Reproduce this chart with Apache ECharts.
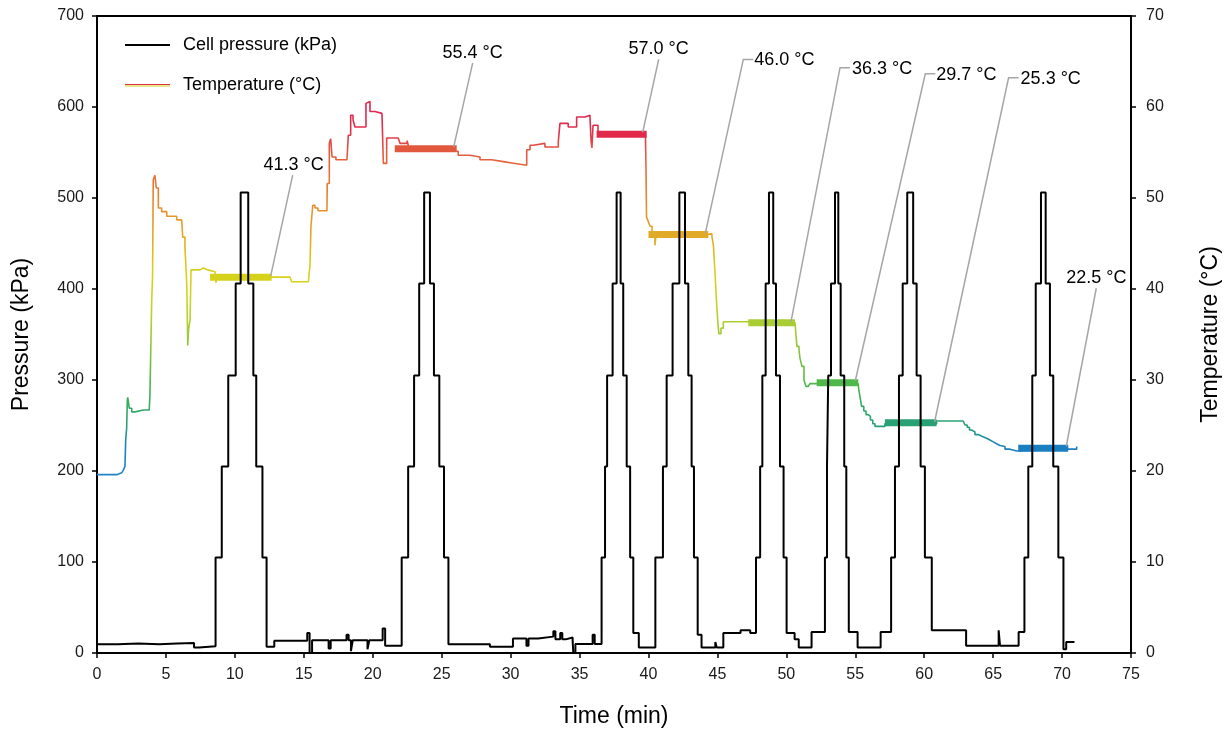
<!DOCTYPE html>
<html>
<head>
<meta charset="utf-8">
<title>Cell pressure and temperature</title>
<script src="https://cdn.jsdelivr.net/npm/echarts@6/dist/echarts.min.js"></script>
<style>
  html, body { margin: 0; padding: 0; background: #ffffff; }
  #chart { width: 1232px; height: 731px; }
</style>
</head>
<body>
<div id="chart"></div>
<script>
// ---- data -------------------------------------------------------------
// Cell pressure (kPa): each point is the time (min) at which a new level starts
const pressureTime = [
  0, 1.5, 3.0, 4.5, 5.8, 7.04, 7.4,
  8.6, 9.05, 9.52, 10.06, 10.42, 10.97, 11.34, 11.55, 12.0, 12.3,
  12.86, 15.25, 15.42, 15.6, 16.8, 16.95, 18.1, 18.25, 18.42, 18.55, 19.62, 19.75, 20.72, 20.9,
  22.1, 22.57, 23.0, 23.37, 23.73, 24.15, 24.44, 24.83, 25.17, 25.49,
  28.5, 30.17, 31.15, 31.3, 32.0, 33.1, 33.25, 33.6, 33.75, 34.0, 34.5, 34.55, 34.7, 35.95, 36.1,
  36.6, 36.85, 37.0, 37.4, 37.69, 37.98, 38.17, 38.42, 38.67, 38.9, 39.3,
  40.5, 41.05, 41.32, 41.75, 42.24, 42.65, 42.89, 43.13, 43.3, 43.57, 43.85, 44.85, 44.95,
  45.43, 46.68, 47.38,
  47.8, 48.1, 48.26, 48.5, 48.74, 49.05, 49.25, 49.54, 49.8, 50.02, 50.6, 50.9, 51.83,
  52.8, 52.95, 53.04, 53.24, 53.53, 53.77, 53.94, 54.2, 54.35, 54.53, 55.17, 56.84,
  57.6, 57.88, 58.17, 58.44, 58.77, 59.2, 59.45, 59.74, 60.05, 60.55, 63.04, 65.4, 65.5, 66.85,
  67.27, 67.55, 67.84, 68.09, 68.47, 68.81, 69.12, 69.36, 69.73, 70.1, 70.3, 70.9
];
const pressureKPa = [
  9.5, 10.5, 9.5, 10.5, 11, 6, 7.5,
  105, 205, 305, 406, 506, 406, 305, 205, 105, 7,
  13.5, 22, 0, 14, 5, 14, 20, 14, 2, 14, 4, 14, 27, 8,
  105, 205, 305, 406, 506, 406, 305, 205, 105, 9.5,
  7, 16, 8, 16, 18, 24, 15, 22, 15, 17, 13, 0, 10, 20, 10,
  105, 205, 305, 406, 506, 406, 305, 205, 105, 22, 6,
  105, 205, 305, 406, 506, 406, 305, 205, 105, 20, 6, 12, 6,
  22, 25, 22,
  105, 205, 305, 406, 506, 406, 305, 205, 105, 22, 15, 6, 23,
  105, 205, 305, 406, 506, 406, 305, 205, 105, 23, 6, 23,
  105, 205, 305, 406, 506, 406, 305, 205, 105, 25, 8, 25, 8, 23,
  105, 205, 305, 406, 506, 406, 305, 205, 105, 4, 12, 12
];

// Temperature (°C): each point is the time (min) at which a new reading starts
const tempTime = [
  0, 1.43, 1.52, 1.79, 1.91, 2.03, 2.08, 2.15, 2.2, 2.23, 2.34, 2.52, 2.76, 3.36, 3.79,
  3.84, 3.97, 4.03, 4.08, 4.2, 4.3, 4.45, 4.69, 5.06, 5.78, 6.14, 6.22, 6.38, 6.51, 6.55,
  6.58, 6.64, 6.75, 6.82, 7.47, 7.71, 8.05, 8.56, 8.63, 8.7, 12.69, 14.0, 14.12, 15.33,
  15.45, 15.52, 15.65, 15.81, 16.03, 16.68, 16.7, 16.85, 16.95, 17.05, 17.33, 18.13, 18.23,
  18.4, 18.57, 18.71, 19.32, 19.51, 19.63, 19.8, 20.16, 20.67, 20.77, 21.01, 21.85, 21.98,
  22.34, 22.49, 22.63, 24.2, 24.88, 25.6, 26.2, 27.05, 27.78, 28.63, 29.47, 30.32, 31.17,
  31.41, 31.65, 32.49, 33.46, 33.58, 34.18, 34.79, 35.4, 35.76, 35.84, 35.9, 35.98, 36.34,
  39.78, 39.82, 39.86, 39.99, 40.11, 40.26, 40.47, 40.55, 44.34, 44.6, 44.71, 44.83, 44.95,
  45.04, 45.11, 45.26, 45.43, 47.24, 50.63, 50.7, 50.77, 50.92, 50.99, 51.13, 51.28, 51.42,
  51.59, 51.71, 55.21, 55.26, 55.36, 55.46, 55.62, 55.78, 55.94, 56.1, 56.27, 56.43, 56.79,
  57.15, 60.9, 62.83, 62.96, 63.12, 63.28, 63.44, 63.68, 63.92, 64.22, 64.53, 64.77, 65.01,
  65.25, 65.5, 65.86, 66.22, 66.71, 66.82, 70.45, 71.06
];
const tempC = [
  19.6, 19.6, 19.8, 19.9, 20.1, 20.5, 23.4, 24.7, 27.8, 28.1, 26.9, 26.5, 26.7, 26.7, 26.8,
  28.4, 38.8, 41.4, 52.0, 52.5, 51.1, 48.9, 48.5, 48.0, 47.6, 47.4, 45.7, 44.6, 40.6, 37.3,
  33.8, 35.5, 36.6, 42.1, 42.3, 42.1, 41.9, 41.9, 40.7, 41.3, 41.3, 41.2, 40.8, 40.8,
  42.6, 46.9, 49.2, 48.9, 48.6, 48.5, 51.6, 56.0, 56.5, 54.5, 54.2, 54.2, 56.9,
  59.1, 58.6, 57.8, 57.8, 60.4, 60.6, 59.5, 59.3, 59.2, 53.8, 56.6, 56.6, 56.0,
  56.0, 56.3, 55.5, 55.4, 55.3, 55.1, 54.7, 54.5, 54.2, 54.0, 53.8, 53.6, 55.3,
  55.8, 56.0, 55.6, 56.2, 58.2, 57.8, 58.9, 59.1, 58.8, 56.2, 55.5, 58.0, 57.1,
  57.1, 53.3, 47.9, 47.4, 46.9, 46.1, 44.8, 46.0, 46.1, 45.8, 44.8, 41.7, 38.2,
  36.2, 35.1, 35.7, 36.4, 36.3, 36.3, 34.9, 33.7, 33.3, 32.4, 31.5, 30.0, 29.3,
  29.1, 29.6, 29.6, 28.9, 28.0, 27.1, 26.6, 26.2, 26.0, 25.6, 25.2, 24.9, 24.9,
  25.2, 25.5, 25.5, 25.05, 24.8, 24.5, 24.3, 24.0, 23.8, 23.6, 23.4, 23.2, 23.0,
  22.8, 22.7, 22.4, 22.2, 22.1, 22.4, 22.4, 22.7
];

// Steady-temperature plateaus (start, end in min; mean temperature in °C)
const plateauStart = [8.2, 21.6, 36.24, 40.0, 47.24, 52.2, 57.15, 66.82];
const plateauEnd   = [12.67, 26.09, 39.87, 44.34, 50.63, 55.22, 60.9, 70.45];
const plateauTemp  = [41.3, 55.4, 57.0, 46.0, 36.3, 29.7, 25.3, 22.5];

// Axis ticks
const timeTicks = { min: 0, max: 75, step: 5 };
const pressureTicks = { min: 0, max: 700, step: 100 };
const tempTicks = { min: 0, max: 70, step: 10 };

// ---- styling ----------------------------------------------------------
const FONT = "'Liberation Sans', Arial, Helvetica, sans-serif";
const plateauColors = ['#d6d21c', '#e2583e', '#e12a4a', '#e1aa27', '#a9cd33', '#4fb84a', '#29a174', '#1a7fc0'];
// Callout placement, pixel offsets from each plateau's right end
const calloutLayout = [
  { from: [-1, -1], path: [[21, -102]], text: [22, -112], align: 'center' },
  { from: [-3, -2], path: [[16, -86]], text: [16, -96], align: 'center' },
  { from: [-4, -2], path: [[12, -75]], text: [12, -85], align: 'center' },
  { from: [-3, -1], path: [[35, -175], [45, -175]], text: [46, -174], align: 'left' },
  { from: [-4, -1], path: [[45, -255], [55, -255]], text: [57, -254], align: 'left' },
  { from: [-3, -2], path: [[67, -309], [77, -309]], text: [78, -308], align: 'left' },
  { from: [-2, -1], path: [[72, -345], [82, -345]], text: [84, -344], align: 'left' },
  { from: [-2, -2], path: [[28, -160]], text: [28, -170], align: 'center' }
];

const zip = (a, b) => a.map((v, i) => [v, b[i]]);

function axisStyle(labelMargin) {
  return {
    axisLine: { show: true, onZero: false, lineStyle: { color: '#000', width: 2 } },
    axisTick: { show: true, inside: false, length: 5, lineStyle: { color: '#000', width: 1.5 } },
    axisLabel: { color: '#1a1a1a', fontSize: 16, fontFamily: FONT, margin: labelMargin },
    splitLine: { show: false },
    nameTextStyle: { color: '#000', fontSize: 23, fontFamily: FONT }
  };
}

const series = [];

// Temperature trace, coloured by value through the visualMap
series.push({
  name: 'Temperature (°C)',
  type: 'line',
  step: 'end',
  xAxisIndex: 0, yAxisIndex: 1,
  data: zip(tempTime, tempC),
  showSymbol: false, symbol: 'none',
  lineStyle: { width: 1.6 },
  z: 2
});

// Plateau markers
plateauTemp.forEach((T, i) => {
  series.push({
    name: 'plateau' + i,
    type: 'line',
    xAxisIndex: 0, yAxisIndex: 1,
    data: [[plateauStart[i], T], [plateauEnd[i], T]],
    showSymbol: false, symbol: 'none',
    lineStyle: { width: 7, color: plateauColors[i], cap: 'butt' },
    itemStyle: { color: plateauColors[i] },
    z: 3
  });
});

// Cell pressure
series.push({
  name: 'Cell pressure (kPa)',
  type: 'line',
  step: 'end',
  xAxisIndex: 0, yAxisIndex: 0,
  data: zip(pressureTime, pressureKPa),
  showSymbol: false, symbol: 'none',
  lineStyle: { width: 2, color: '#000' },
  itemStyle: { color: '#000' },
  z: 4
});

// Plateau callouts with leader lines
series.push({
  type: 'custom',
  coordinateSystem: 'cartesian2d',
  xAxisIndex: 0, yAxisIndex: 1,
  data: zip(plateauEnd, plateauTemp),
  encode: { x: 0, y: 1 },
  clip: false,
  z: 5,
  renderItem(params, api) {
    const L = calloutLayout[params.dataIndex];
    const p = api.coord([api.value(0), api.value(1)]);
    const pts = [[p[0] + L.from[0], p[1] + L.from[1]]];
    L.path.forEach(d => pts.push([p[0] + d[0], p[1] + d[1]]));
    return {
      type: 'group',
      children: [
        { type: 'polyline', shape: { points: pts },
          style: { stroke: '#a6a6a6', lineWidth: 1.5, fill: null } },
        { type: 'text', x: p[0] + L.text[0], y: p[1] + L.text[1],
          style: { text: api.value(1).toFixed(1) + ' °C', fill: '#000', fontSize: 18,
                   fontFamily: FONT, align: L.align, verticalAlign: 'middle' } }
      ]
    };
  }
});

const option = {
  animation: false,
  backgroundColor: '#ffffff',
  grid: { left: 97, right: 101, top: 16, bottom: 78, show: true, containLabel: false,
          outerBoundsMode: 'none',
          borderColor: '#000', borderWidth: 2, backgroundColor: 'transparent' },
  xAxis: Object.assign(axisStyle(14), {
    type: 'value', min: timeTicks.min, max: timeTicks.max, interval: timeTicks.step,
    name: 'Time (min)', nameLocation: 'middle', nameGap: 52
  }),
  yAxis: [
    Object.assign(axisStyle(13), {
      type: 'value', position: 'left',
      min: pressureTicks.min, max: pressureTicks.max, interval: pressureTicks.step,
      name: 'Pressure (kPa)', nameLocation: 'middle', nameGap: 64, nameRotate: 90
    }),
    Object.assign(axisStyle(15), {
      type: 'value', position: 'right',
      min: tempTicks.min, max: tempTicks.max, interval: tempTicks.step,
      name: 'Temperature (°C)', nameLocation: 'middle', nameGap: 68, nameRotate: 90
    })
  ],
  visualMap: {
    type: 'continuous', show: false, seriesIndex: 0, dimension: 1,
    min: 20, max: 60,
    inRange: { color: ['#1d86c8', '#1a80c0', '#27a07a', '#36ac5e', '#52b84a', '#7cc23e',
                       '#9ecb36', '#bcd22a', '#d2d41c', '#dccc1e', '#e2b024', '#e69a2a',
                       '#e8852e', '#e87034', '#e45a3e', '#e0304a', '#dd2550'] }
  },
  graphic: [
    { type: 'line', shape: { x1: 125, y1: 45, x2: 170, y2: 45 },
      style: { stroke: '#000', lineWidth: 2 } },
    { type: 'text', x: 183, y: 45,
      style: { text: 'Cell pressure (kPa)', fill: '#000', fontSize: 18, fontFamily: FONT,
               verticalAlign: 'middle' } },
    { type: 'line', shape: { x1: 125, y1: 84.5, x2: 170, y2: 84.5 },
      style: { stroke: '#e2343f', lineWidth: 1.2 } },
    { type: 'line', shape: { x1: 125, y1: 86, x2: 170, y2: 86 },
      style: { stroke: '#d8cf1a', lineWidth: 1.2 } },
    { type: 'text', x: 183, y: 85,
      style: { text: 'Temperature (°C)', fill: '#000', fontSize: 18, fontFamily: FONT,
               verticalAlign: 'middle' } }
  ],
  series: series
};

const chart = echarts.init(document.getElementById('chart'), null, { renderer: 'canvas' });
chart.setOption(option);
</script>
</body>
</html>
